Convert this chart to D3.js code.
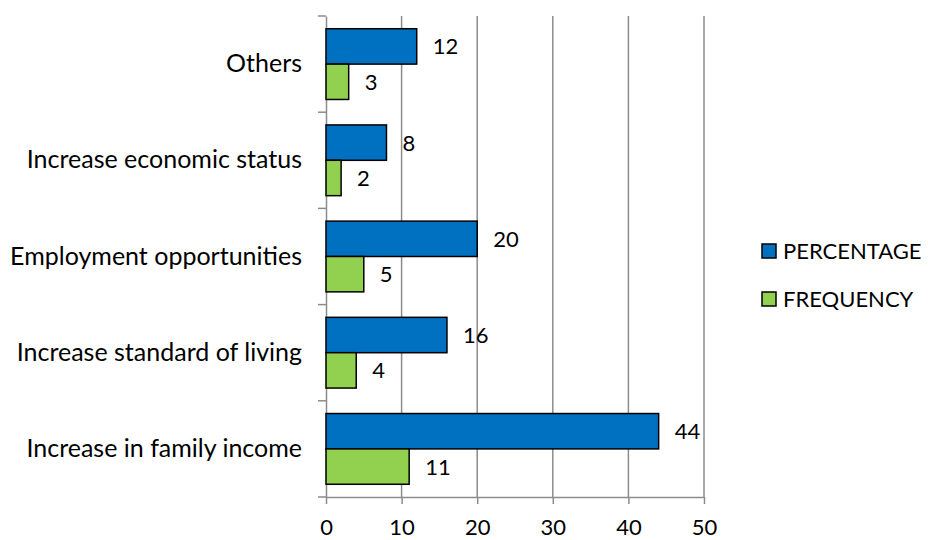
<!DOCTYPE html>
<html>
<head>
<meta charset="utf-8">
<script src="https://cdn.jsdelivr.net/npm/d3@7"></script>
<style>
  body { margin: 0; background: #fff; }
  svg { display: block; }
  text { font-family: Lato, "Open Sans", sans-serif; fill: #000; }
</style>
</head>
<body>
<svg id="chart" width="928" height="540"></svg>
<script>
const categories = [
  "Others",
  "Increase economic status",
  "Employment opportunities",
  "Increase standard of living",
  "Increase in family income"
];
const percentage = [12, 8, 20, 16, 44];
const frequency = [3, 2, 5, 4, 11];
const seriesNames = ["PERCENTAGE", "FREQUENCY"];
const seriesColors = ["#0070C0", "#92D050"];
const xTicks = [0, 10, 20, 30, 40, 50];

const FONT = "Lato, 'Open Sans', sans-serif";
const LABEL_SIZE = 25;   // category labels
const NUM_SIZE = 22;     // value labels and tick labels
const LEGEND_SIZE = 22;

const svg = d3.select("#chart");
const plotLeft = 326, plotRight = 704, plotTop = 16, plotBottom = 497;

const x = d3.scaleLinear().domain([0, 50]).range([plotLeft, plotRight]);
const y = d3.scaleBand().domain(categories).range([plotTop, plotBottom]).paddingInner(0).paddingOuter(0);
const inner = d3.scaleBand().domain(seriesNames).range([0, y.bandwidth()]).paddingOuter(0.36).paddingInner(0);

// vertical gridlines
svg.append("g")
  .selectAll("line")
  .data(xTicks.filter(d => d > 0))
  .join("line")
  .attr("x1", d => x(d)).attr("x2", d => x(d))
  .attr("y1", plotTop).attr("y2", plotBottom)
  .attr("stroke", "#8c8c8c").attr("stroke-width", 1.5);

// bottom axis
const xAxis = svg.append("g")
  .attr("transform", `translate(0,${plotBottom})`)
  .call(d3.axisBottom(x).tickValues(xTicks).tickSize(7).tickSizeOuter(0).tickPadding(15));
xAxis.select(".domain").attr("stroke", "#8c8c8c").attr("stroke-width", 1.5);
xAxis.selectAll(".tick line").attr("stroke", "#8c8c8c").attr("stroke-width", 1.5);
xAxis.selectAll("text").attr("font-size", NUM_SIZE).attr("font-family", FONT).attr("fill", "#000");

// left axis, ticks at band boundaries
const yAxis = svg.append("g")
  .attr("transform", `translate(${plotLeft},0)`)
  .call(d3.axisLeft(y).tickSize(0).tickPadding(24));
yAxis.select(".domain").attr("stroke", "#8c8c8c").attr("stroke-width", 1.5);
yAxis.selectAll("text").attr("font-size", LABEL_SIZE).attr("font-family", FONT).attr("fill", "#000");
const boundaries = categories.map(c => y(c)).concat([plotBottom]);
svg.append("g").selectAll("line").data(boundaries).join("line")
  .attr("x1", plotLeft - 8).attr("x2", plotLeft)
  .attr("y1", d => d).attr("y2", d => d)
  .attr("stroke", "#8c8c8c").attr("stroke-width", 1.5);

// bars
const rows = categories.map((c, i) => ({ c, vals: [percentage[i], frequency[i]] }));
const groups = svg.append("g").selectAll("g").data(rows).join("g")
  .attr("transform", d => `translate(0,${y(d.c)})`);

groups.selectAll("rect")
  .data(d => d.vals.map((v, k) => ({ v, k })))
  .join("rect")
  .attr("x", x(0))
  .attr("y", d => inner(seriesNames[d.k]))
  .attr("width", d => x(d.v) - x(0))
  .attr("height", inner.bandwidth())
  .attr("fill", d => seriesColors[d.k])
  .attr("stroke", "#000").attr("stroke-width", 1.5);

groups.selectAll("text.val")
  .data(d => d.vals.map((v, k) => ({ v, k })))
  .join("text")
  .attr("class", "val")
  .attr("x", d => x(d.v) + 16)
  .attr("y", d => inner(seriesNames[d.k]) + inner.bandwidth() / 2)
  .attr("dy", "0.36em")
  .attr("font-size", NUM_SIZE)
  .text(d => d.v);

// legend
const legend = svg.append("g").selectAll("g").data(seriesNames).join("g")
  .attr("transform", (d, i) => `translate(762,${251 + i * 48})`);
legend.append("rect")
  .attr("x", 0).attr("y", -7).attr("width", 14).attr("height", 14)
  .attr("fill", (d, i) => seriesColors[i])
  .attr("stroke", "#000").attr("stroke-width", 1.5);
legend.append("text")
  .attr("x", 21).attr("y", 0).attr("dy", "0.36em")
  .attr("font-size", LEGEND_SIZE)
  .text(d => d);
</script>
</body>
</html>
